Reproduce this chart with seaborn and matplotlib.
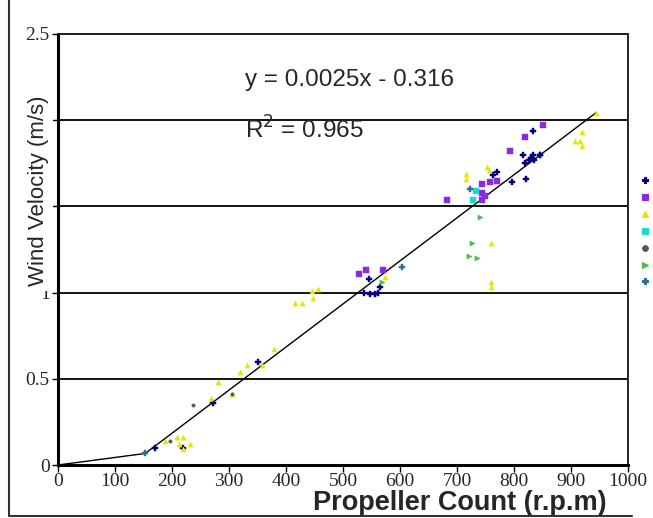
import matplotlib
matplotlib.use("Agg")
import matplotlib.pyplot as plt
from matplotlib.lines import Line2D
import seaborn as sns
import pandas as pd

# ---- data ----
navy_x = [170, 219, 272, 351, 537, 546, 547, 556, 561, 565, 763, 770, 796, 816, 819, 821, 826, 829, 833, 834, 835, 845, 846]
navy_y = [0.10, 0.10, 0.36, 0.60, 1.00, 1.08, 0.99, 0.99, 1.00, 1.03, 1.68, 1.70, 1.64, 1.80, 1.75, 1.66, 1.77, 1.78, 1.80, 1.94, 1.77, 1.80, 1.80]

purple_x = [528, 540, 570, 682, 744, 744, 744, 749, 758, 770, 793, 819, 851]
purple_y = [1.11, 1.13, 1.13, 1.54, 1.63, 1.58, 1.54, 1.56, 1.64, 1.65, 1.82, 1.90, 1.97]

yellow_x = [188, 208, 212, 219, 219, 232, 268, 281, 305, 319, 332, 358, 379, 416, 428, 445, 447, 456, 574,
            716, 716, 752, 756, 760, 760, 760, 907, 916, 919, 919, 944]
yellow_y = [0.14, 0.16, 0.12, 0.16, 0.09, 0.12, 0.39, 0.48, 0.41, 0.54, 0.58, 0.58, 0.67, 0.94, 0.94, 1.01, 0.97, 1.02, 1.09,
            1.69, 1.66, 1.73, 1.71, 1.29, 1.06, 1.03, 1.88, 1.88, 1.93, 1.85, 2.04]

cyan_x = [733, 728]
cyan_y = [1.59, 1.54]

black_x = [196, 237, 305]
black_y = [0.14, 0.35, 0.41]

green_x = [569, 721, 726, 735, 740]
green_y = [1.06, 1.21, 1.29, 1.20, 1.44]

teal_x = [153, 603, 723]
teal_y = [0.07, 1.15, 1.60]

trend_x = [0, 153, 945]
trend_y = [0, 0.067, 2.046]

equation = "y = 0.0025x - 0.316"
r2_text = "R$^2$ = 0.965"

x_ticks = [0, 100, 200, 300, 400, 500, 600, 700, 800, 900, 1000]
y_ticks = [0, 0.5, 1, 1.5, 2, 2.5]
y_tick_labels = ["0", "0.5", "1", "1.5", "2", "2.5"]

series = [
    ("s1", navy_x, navy_y, "#000080", "P"),
    ("s2", purple_x, purple_y, "#8a2be2", "s"),
    ("s3", yellow_x, yellow_y, "#e6e600", "^"),
    ("s4", cyan_x, cyan_y, "#20d8d0", "s"),
    ("s5", black_x, black_y, "#555555", "o"),
    ("s6", green_x, green_y, "#4cbb4c", ">"),
    ("s7", teal_x, teal_y, "#2a6f8f", "P"),
]

sns.set_style("white")
fig = plt.figure(figsize=(6.53, 5.18), dpi=100)
ax = fig.add_axes([58 / 653, 1 - 465 / 518, 570 / 653, 431 / 518])

# trend line
sns.lineplot(x=trend_x, y=trend_y, ax=ax, color="black", lw=1.0, zorder=3, sort=False)

for name, xs, ys, c, m in series:
    d = pd.DataFrame({"x": xs, "y": ys})
    sz = 6 if name == "s5" else 14
    sns.scatterplot(data=d, x="x", y="y", color=c, marker=m, s=sz, linewidth=0.3,
                    edgecolor=c, ax=ax, legend=False, zorder=4)

ax.set_xlim(0, 1000)
ax.set_ylim(0, 2.5)
ax.set_xticks(x_ticks)
ax.set_xticklabels([str(t) for t in x_ticks], family="Liberation Serif", fontsize=14)
ax.set_yticks(y_ticks)
ax.set_yticklabels(y_tick_labels, family="Liberation Serif", fontsize=14)

ax.yaxis.grid(True, color="black", lw=1.3)
ax.xaxis.grid(False)
ax.set_axisbelow(True)

ax.tick_params(axis="x", direction="out", length=5, width=1, color="black", pad=1, bottom=True)
ax.tick_params(axis="y", direction="out", length=4, width=1, color="black", pad=2, left=True)

for side in ["left", "bottom"]:
    ax.spines[side].set_linewidth(2.2)
    ax.spines[side].set_color("black")
for side in ["top", "right"]:
    ax.spines[side].set_linewidth(1.4)
    ax.spines[side].set_color("#222222")
    ax.spines[side].set_visible(True)

ax.set_xlabel("Propeller Count (r.p.m)", family="Liberation Sans", fontsize=19.5, fontweight="bold")
ax.xaxis.set_label_coords(0.705, -0.059)
ax.set_ylabel("Wind Velocity (m/s)", family="Liberation Sans", fontsize=16,
              bbox=dict(boxstyle="square,pad=0.2", fc="white", ec="none"))
ax.yaxis.set_label_coords(-0.016, 0.636)

ax.text(0.328, 0.893, equation, transform=ax.transAxes, family="Liberation Sans",
        fontsize=17.5, va="center", ha="left")
ax.text(0.328, 0.777, r2_text, transform=ax.transAxes, family="Liberation Sans",
        fontsize=17.5, va="center", ha="left")

# legend with markers only
handles = [Line2D([0], [0], marker=m, color=c, linestyle="none", markersize=4, markeredgewidth=0.8)
           for _, _, _, c, m in series]
fig.legend(handles, [""] * len(handles), loc="upper left", bbox_to_anchor=(0.983, 1 - 176 / 518),
           frameon=False, handlelength=0.6, handletextpad=0, borderpad=0, labelspacing=0.62,
           fontsize=8, borderaxespad=0)

# outer frame lines
fig.add_artist(Line2D([9 / 653, 9 / 653], [1 - 516 / 518, 1.0], transform=fig.transFigure,
                      color="#333333", lw=1.5))
fig.add_artist(Line2D([9 / 653, 632 / 653], [1 - 516 / 518, 1 - 516 / 518], transform=fig.transFigure,
                      color="#333333", lw=1.5))

fig.savefig("out.png", dpi=100)
